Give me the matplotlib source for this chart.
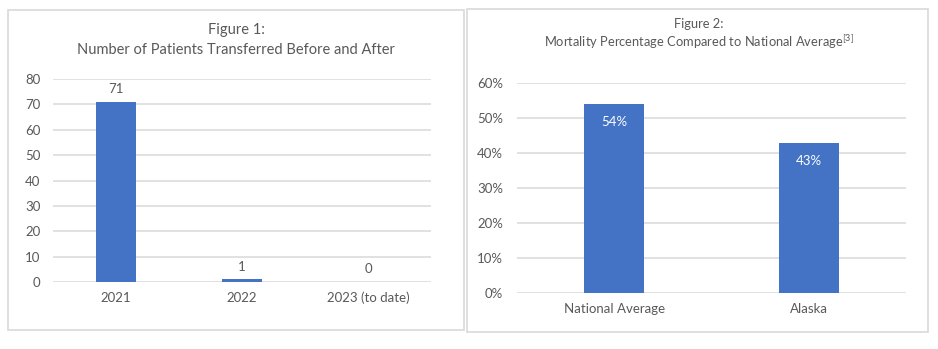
import matplotlib
matplotlib.use("Agg")
import matplotlib.pyplot as plt
from matplotlib.patches import Rectangle
from matplotlib.ticker import FuncFormatter

plt.rcParams['font.family'] = ['Lato', 'DejaVu Sans']
plt.rcParams['mathtext.fontset'] = 'custom'
plt.rcParams['mathtext.rm'] = 'Lato'

# Data
years = ["2021", "2022", "2023 (to date)"]
transfers = [71, 1, 0]
regions = ["National Average", "Alaska"]
mortality = [0.54, 0.43]

BAR = "#4472C4"
GRID = "#D9D9D9"
TXT = "#595959"

W, H = 938, 349
fig = plt.figure(figsize=(W / 100, H / 100), dpi=100)
fig.patch.set_facecolor("white")

def px(x0, y0, x1, y1):
    return [x0 / W, 1 - y1 / H, (x1 - x0) / W, (y1 - y0) / H]

# panel borders
for (x0, y0, x1, y1) in [(8, 10, 464, 330), (467, 9, 928, 332)]:
    fig.patches.append(Rectangle((x0 / W, 1 - y1 / H), (x1 - x0) / W, (y1 - y0) / H,
                                 transform=fig.transFigure, fill=False,
                                 edgecolor=GRID, linewidth=1.2))

def style(ax):
    for s in ax.spines.values():
        s.set_visible(False)
    ax.tick_params(length=0, colors=TXT, labelsize=9.5)
    ax.yaxis.grid(True, color=GRID, linewidth=1.1)
    ax.set_axisbelow(True)

# Figure 1
ax1 = fig.add_axes(px(53, 79, 431, 282))
x1 = list(range(len(years)))
ax1.bar(x1, transfers, width=0.31, color=BAR, zorder=2)
ax1.set_xlim(-0.5, len(years) - 0.5)
ax1.set_ylim(0, 80)
ax1.set_yticks(range(0, 81, 10))
ax1.set_xticks(x1)
ax1.set_xticklabels(years)
style(ax1)
ax1.tick_params(axis='y', pad=9)
ax1.tick_params(axis='x', pad=7)
for xi, v in zip(x1, transfers):
    ax1.annotate(str(v), (xi, v), xytext=(0, 5), textcoords="offset points",
                 ha="center", va="bottom", color=TXT, fontsize=9.5)
fig.text(236 / W, 1 - 30 / H, "Figure 1:", ha="center", va="center", color=TXT, fontsize=10.5)
fig.text(236 / W, 1 - 50 / H, "Number of Patients Transferred Before and After",
         ha="center", va="center", color=TXT, fontsize=10.5)

# Figure 2
ax2 = fig.add_axes(px(517, 83, 906, 293))
x2 = list(range(len(regions)))
ax2.bar(x2, mortality, width=0.31, color=BAR, zorder=2)
ax2.set_xlim(-0.5, len(regions) - 0.5)
ax2.set_ylim(0, 0.6)
ax2.set_yticks([i / 10 for i in range(7)])
ax2.yaxis.set_major_formatter(FuncFormatter(lambda v, p: f"{v*100:.0f}%"))
ax2.set_xticks(x2)
ax2.set_xticklabels(regions)
style(ax2)
ax2.tick_params(axis='y', pad=10)
ax2.tick_params(axis='x', pad=7)
for xi, v in zip(x2, mortality):
    ax2.annotate(f"{v*100:.0f}%", (xi, v), xytext=(0, -9), textcoords="offset points",
                 ha="center", va="top", color="white", fontsize=9.5)
fig.text(699 / W, 1 - 24 / H, "Figure 2:", ha="center", va="center", color=TXT, fontsize=9.3)
fig.text(699 / W, 1 - 42 / H, r"Mortality Percentage Compared to National Average$^{\mathrm{[3]}}$",
         ha="center", va="center", color=TXT, fontsize=9.3)

fig.savefig("out.png", dpi=100, facecolor="white")
